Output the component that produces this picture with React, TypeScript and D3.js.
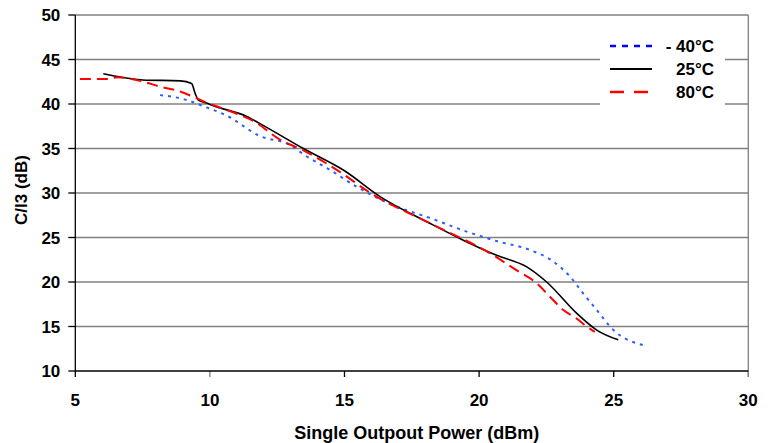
import React from "react";
import * as d3 from "d3";

const xTicks = [5, 10, 15, 20, 25, 30];
const yTicks = [10, 15, 20, 25, 30, 35, 40, 45, 50];

const cold = [
  [8.15, 41.0], [9.14, 40.45], [9.63, 39.9], [10.62, 38.7], [11.86, 36.4],
  [12.97, 35.4], [13.6, 34.1], [14.46, 32.6], [15.45, 30.7], [16.32, 29.3],
  [17.0, 28.4], [18.17, 27.2], [19.41, 25.8], [20.65, 24.6], [21.89, 23.6],
  [22.76, 22.3], [23.38, 20.6], [23.87, 18.7], [24.37, 16.85], [24.99, 14.6],
  [26.1, 12.9],
];
const room = [
  [6.04, 43.4], [7.5, 42.7], [8.9, 42.6], [9.32, 42.3], [9.45, 41.2],
  [9.57, 40.45], [9.88, 40.1], [10.13, 39.8], [11.37, 38.6], [11.86, 37.8],
  [13.47, 35.0], [15.0, 32.5], [16.32, 29.6], [18.17, 26.6], [19.41, 24.7],
  [20.65, 23.0], [21.77, 21.7], [22.51, 20.0], [23.62, 16.5], [24.37, 14.6],
  [25.17, 13.5],
];
const hot = [
  [5.17, 42.8], [6.23, 42.8], [6.54, 43.0], [7.4, 42.6], [8.15, 41.95],
  [8.9, 41.4], [9.38, 40.8], [9.88, 40.15], [11.0, 38.9], [11.61, 38.1],
  [12.6, 36.0], [13.47, 34.8], [14.71, 32.6], [16.07, 29.8], [18.17, 26.6],
  [20.53, 23.0], [21.4, 21.3], [22.14, 19.85], [22.63, 18.35], [23.13, 16.85],
  [23.62, 15.9], [24.0, 15.0], [24.3, 14.4],
];

const series = [
  { name: "- 40°C", data: cold, color: "#2a5cff", legendColor: "#0000ff", dash: "3,5", legendDash: "6,6", width: 2 },
  { name: "25°C", data: room, color: "#000000", legendColor: "#000000", dash: "", legendDash: "", width: 1.6 },
  { name: "80°C", data: hot, color: "#ff0000", legendColor: "#ff0000", dash: "11,6", legendDash: "14,10", width: 2 },
];

export default function App() {
  const left = 75.3, right = 748.3, top = 15, bottom = 371;
  const x = d3.scaleLinear().domain([5, 30]).range([left, right]);
  const y = d3.scaleLinear().domain([10, 50]).range([bottom, top]);
  const line = d3
    .line<number[]>()
    .x((d) => x(d[0]))
    .y((d) => y(d[1]))
    .curve(d3.curveMonotoneX);
  const font = "'Liberation Sans', Arial, sans-serif";
  return (
    <svg
      width={769}
      height={443}
      style={{ position: "absolute", left: 0, top: 0, background: "#fff" }}
      fontFamily={font}
      fontWeight="bold"
    >
      {yTicks.map((t) => (
        <g key={"y" + t}>
          {t > 10 && (
            <line x1={left} x2={right} y1={y(t)} y2={y(t)} stroke="#808080" strokeWidth={1.3} />
          )}
          <line x1={left - 7} x2={left} y1={y(t)} y2={y(t)} stroke="#000" strokeWidth={1.3} />
          <text x={left - 15} y={y(t)} dy="0.36em" textAnchor="end" fontSize={17}>
            {t}
          </text>
        </g>
      ))}
      <line x1={right} x2={right} y1={top} y2={bottom + 6} stroke="#808080" strokeWidth={1.3} />
      {xTicks.map((t) => (
        <g key={"x" + t}>
          <line x1={x(t)} x2={x(t)} y1={bottom} y2={bottom + 6} stroke={t === 30 || t === 10 ? "#808080" : "#000"} strokeWidth={1.3} />
          <text x={x(t)} y={406} textAnchor="middle" fontSize={17}>
            {t}
          </text>
        </g>
      ))}
      <line x1={left} x2={left} y1={top} y2={bottom} stroke="#000" strokeWidth={1.3} />
      <line x1={left} x2={right} y1={bottom} y2={bottom} stroke="#000" strokeWidth={1.3} />
      <rect x={600} y={36} width={125} height={76} fill="#fff" />
      {series.map((s) => (
        <path
          key={s.name}
          d={line(s.data) || ""}
          fill="none"
          stroke={s.color}
          strokeWidth={s.width}
          strokeDasharray={s.dash}
        />
      ))}
      {series.map((s, i) => (
        <g key={"l" + s.name}>
          <line
            x1={610}
            x2={652}
            y1={46 + i * 23}
            y2={46 + i * 23}
            stroke={s.legendColor}
            strokeWidth={s.width + 0.6}
            strokeDasharray={s.legendDash}
          />
          <text x={714} y={46 + i * 23} dy="0.36em" textAnchor="end" fontSize={17}>
            {s.name}
          </text>
        </g>
      ))}
      <text x={(left + right) / 2 + 5} y={439} textAnchor="middle" fontSize={18}>
        Single Outpout Power (dBm)
      </text>
      <text
        transform={`translate(27,190) rotate(-90)`}
        textAnchor="middle"
        fontSize={17}
      >
        C/I3 (dB)
      </text>
    </svg>
  );
}
